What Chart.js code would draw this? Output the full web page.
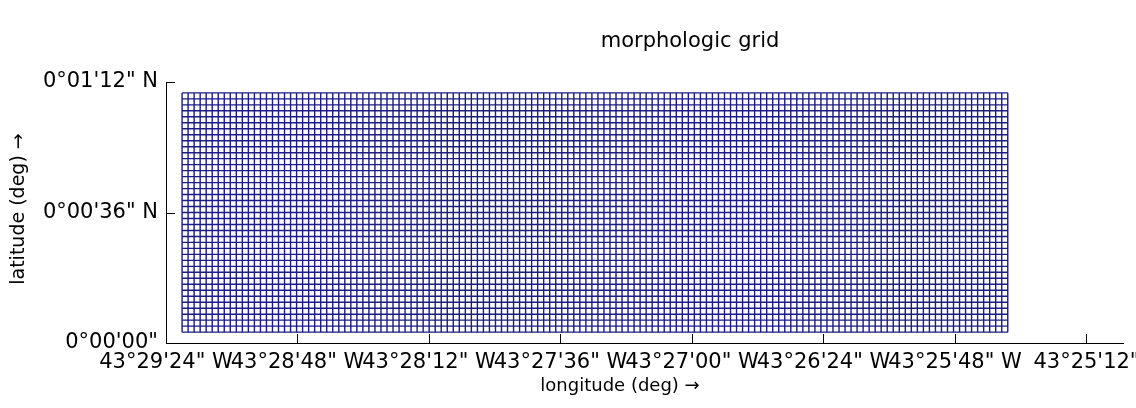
<!DOCTYPE html>
<html>
<head>
<meta charset="utf-8">
<script src="https://cdn.jsdelivr.net/npm/chart.js@4.4.1/dist/chart.umd.min.js"></script>
<style>
  html, body { margin: 0; padding: 0; background: #fff; }
  #wrap { width: 1136px; height: 408px; position: relative; }
</style>
</head>
<body>
<div id="wrap"><canvas id="gridChart"></canvas></div>
<script>
// axes are in arc-seconds: x = -(seconds west of 43°W), y = seconds north of the equator
const xTickSec = [-1764, -1728, -1692, -1656, -1620, -1584, -1548, -1512];
const xTickLabels = ['43°29\'24" W', '43°28\'48" W', '43°28\'12" W', '43°27\'36" W',
  '43°27\'00" W', '43°26\'24" W', '43°25\'48" W', '43°25\'12"'];
const yTickSec = [0, 36, 72];
const yTickLabels = ['0°00\'00"', '0°00\'36" N', '0°01\'12" N'];

// grid line positions (arc-seconds)
const lonLines = [
  -1759.60, -1757.95, -1756.30, -1754.65, -1753.00, -1751.35, -1749.70, -1748.05, -1746.40, -1744.75,
  -1743.10, -1741.45, -1739.80, -1738.15, -1736.50, -1734.85, -1733.20, -1731.55, -1729.90, -1728.25,
  -1726.60, -1724.95, -1723.30, -1721.65, -1720.00, -1718.35, -1716.70, -1715.05, -1713.40, -1711.75,
  -1710.10, -1708.45, -1706.80, -1705.15, -1703.50, -1701.85, -1700.20, -1698.55, -1696.90, -1695.25,
  -1693.60, -1691.95, -1690.30, -1688.65, -1687.00, -1685.35, -1683.70, -1682.05, -1680.40, -1678.75,
  -1677.10, -1675.45, -1673.80, -1672.15, -1670.50, -1668.85, -1667.20, -1665.55, -1663.90, -1662.25,
  -1660.60, -1658.95, -1657.30, -1655.65, -1654.00, -1652.35, -1650.70, -1649.05, -1647.40, -1645.75,
  -1644.10, -1642.45, -1640.80, -1639.15, -1637.50, -1635.85, -1634.20, -1632.55, -1630.90, -1629.25,
  -1627.60, -1625.95, -1624.30, -1622.65, -1621.00, -1619.35, -1617.70, -1616.05, -1614.40, -1612.75,
  -1611.10, -1609.45, -1607.80, -1606.15, -1604.50, -1602.85, -1601.20, -1599.55, -1597.90, -1596.25,
  -1594.60, -1592.95, -1591.30, -1589.65, -1588.00, -1586.35, -1584.70, -1583.05, -1581.40, -1579.75,
  -1578.10, -1576.45, -1574.80, -1573.15, -1571.50, -1569.85, -1568.20, -1566.55, -1564.90, -1563.25,
  -1561.60, -1559.95, -1558.30, -1556.65, -1555.00, -1553.35, -1551.70, -1550.05, -1548.40, -1546.75,
  -1545.10, -1543.45, -1541.80, -1540.15, -1538.50, -1536.85, -1535.20, -1533.55
];
const latLines = [
  3.00, 4.65, 6.30, 7.95, 9.60, 11.25, 12.90, 14.55, 16.20, 17.85,
  19.50, 21.15, 22.80, 24.45, 26.10, 27.75, 29.40, 31.05, 32.70, 34.35,
  36.00, 37.65, 39.30, 40.95, 42.60, 44.25, 45.90, 47.55, 49.20, 50.85,
  52.50, 54.15, 55.80, 57.45, 59.10, 60.75, 62.40, 64.05, 65.70, 67.35, 69.00
];

const chartTitle = 'morphologic grid';
const xTitle = 'longitude (deg) \u2192';
const yTitle = 'latitude (deg) \u2192';

const FONT = '"DejaVu Sans", "Liberation Sans", Arial, sans-serif';
const gridColor = '#1c1c82';

const latLo = latLines[0], latHi = latLines[latLines.length - 1];
const lonLo = lonLines[0], lonHi = lonLines[lonLines.length - 1];

// each grid line is a segment; a null point breaks the path
const meridians = lonLines.flatMap(x => [{x, y: latLo}, {x, y: latHi}, {x, y: null}]);
const parallels = latLines.flatMap(y => [{x: lonLo, y}, {x: lonHi, y}, {x: lonLo, y: null}]);

const decorations = {
  id: 'decorations',
  afterDraw(chart) {
    const {ctx, chartArea} = chart;
    const xs = chart.scales.x, ys = chart.scales.y;
    ctx.save();
    // inward tick marks
    ctx.strokeStyle = '#000';
    ctx.lineWidth = 1;
    ctx.beginPath();
    xs.ticks.forEach((t, i) => {
      const p = Math.round(xs.getPixelForTick(i)) + 0.5;
      ctx.moveTo(p, chartArea.bottom);
      ctx.lineTo(p, chartArea.bottom - 9);
    });
    ys.ticks.forEach((t, i) => {
      const p = Math.round(ys.getPixelForTick(i)) + 0.5;
      ctx.moveTo(chartArea.left, p);
      ctx.lineTo(chartArea.left + 9, p);
    });
    ctx.stroke();

    ctx.fillStyle = '#000';
    ctx.textAlign = 'center';
    ctx.textBaseline = 'middle';
    ctx.font = '21px ' + FONT;
    ctx.fillText(chartTitle, 690, 42);
    ctx.font = '18px ' + FONT;
    ctx.fillText(xTitle, 620, 386);
    ctx.font = '19px ' + FONT;
    ctx.translate(19, 209);
    ctx.rotate(-Math.PI / 2);
    ctx.fillText(yTitle, 0, 0);
    ctx.restore();
  }
};

new Chart(document.getElementById('gridChart'), {
  type: 'line',
  data: {
    datasets: [
      { data: meridians, borderColor: gridColor, borderWidth: 1.4 },
      { data: parallels, borderColor: gridColor, borderWidth: 1.4 }
    ]
  },
  options: {
    responsive: true,
    maintainAspectRatio: false,
    animation: false,
    events: [],
    spanGaps: false,
    elements: { point: { radius: 0 }, line: { tension: 0 } },
    layout: { padding: { top: 82, left: 6, right: 13, bottom: 0 } },
    plugins: { legend: { display: false }, tooltip: { enabled: false }, title: { display: false } },
    scales: {
      x: {
        type: 'linear',
        min: -1764,
        max: -1502,
        grid: { display: false, drawTicks: false },
        border: { display: true, color: '#000', width: 1 },
        afterBuildTicks: s => { s.ticks = xTickSec.map(v => ({ value: v })); },
        afterFit: s => { s.height = 65; s.paddingLeft = 0; s.paddingRight = 0; },
        ticks: {
          autoSkip: false,
          maxRotation: 0,
          minRotation: 0,
          padding: 7,
          color: '#000',
          font: { family: FONT, size: 21 },
          callback: (v, i) => xTickLabels[i]
        }
      },
      y: {
        min: 0,
        max: 72,
        grid: { display: false, drawTicks: false },
        border: { display: true, color: '#000', width: 1 },
        afterBuildTicks: s => { s.ticks = yTickSec.map(v => ({ value: v })); },
        afterFit: s => { s.width = 160; s.paddingTop = 0; s.paddingBottom = 0; },
        ticks: {
          padding: 8,
          color: '#000',
          font: { family: FONT, size: 21 },
          callback: (v, i) => yTickLabels[i]
        }
      }
    }
  },
  plugins: [decorations]
});
</script>
</body>
</html>
